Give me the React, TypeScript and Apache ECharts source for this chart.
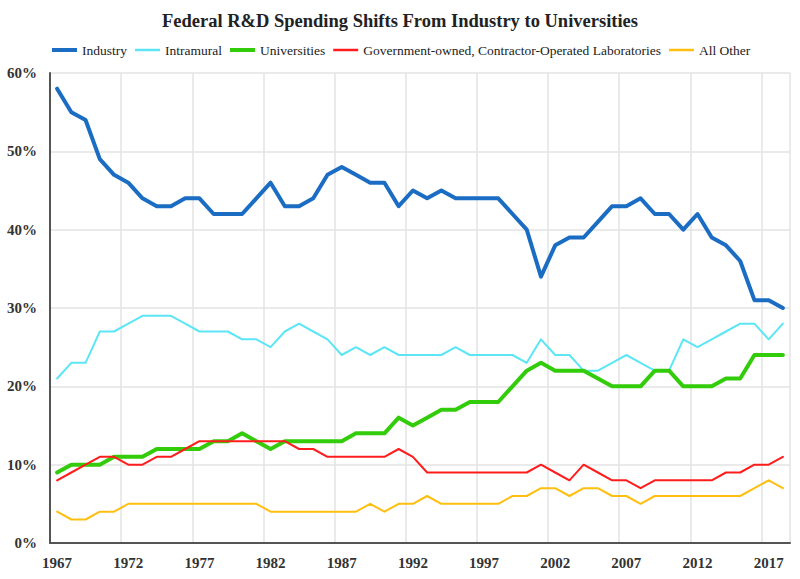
import React, { useEffect, useRef } from "react";
import * as echarts from "echarts";

const years: string[] = [];
for (let y = 1967; y <= 2018; y++) years.push(String(y));

const industry = [
  58, 55, 54, 49, 47, 46, 44, 43, 43, 44,
  44, 42, 42, 42, 44, 46, 43, 43, 44, 47,
  48, 47, 46, 46, 43, 45, 44, 45, 44, 44,
  44, 44, 42, 40, 34, 38, 39, 39, 41, 43,
  43, 44, 42, 42, 40, 42, 39, 38, 36, 31,
  31, 30,
];
const intramural = [
  21, 23, 23, 27, 27, 28, 29, 29, 29, 28,
  27, 27, 27, 26, 26, 25, 27, 28, 27, 26,
  24, 25, 24, 25, 24, 24, 24, 24, 25, 24,
  24, 24, 24, 23, 26, 24, 24, 22, 22, 23,
  24, 23, 22, 22, 26, 25, 26, 27, 28, 28,
  26, 28,
];
const universities = [
  9, 10, 10, 10, 11, 11, 11, 12, 12, 12,
  12, 13, 13, 14, 13, 12, 13, 13, 13, 13,
  13, 14, 14, 14, 16, 15, 16, 17, 17, 18,
  18, 18, 20, 22, 23, 22, 22, 22, 21, 20,
  20, 20, 22, 22, 20, 20, 20, 21, 21, 24,
  24, 24,
];
const goco = [
  8, 9, 10, 11, 11, 10, 10, 11, 11, 12,
  13, 13, 13, 13, 13, 13, 13, 12, 12, 11,
  11, 11, 11, 11, 12, 11, 9, 9, 9, 9,
  9, 9, 9, 9, 10, 9, 8, 10, 9, 8,
  8, 7, 8, 8, 8, 8, 8, 9, 9, 10,
  10, 11,
];
const allOther = [
  4, 3, 3, 4, 4, 5, 5, 5, 5, 5,
  5, 5, 5, 5, 5, 4, 4, 4, 4, 4,
  4, 4, 5, 4, 5, 5, 6, 5, 5, 5,
  5, 5, 6, 6, 7, 7, 6, 7, 7, 6,
  6, 5, 6, 6, 6, 6, 6, 6, 6, 7,
  8, 7,
];

const seriesNames = [
  "Industry",
  "Intramural",
  "Universities",
  "Government-owned, Contractor-Operated Laboratories",
  "All Other",
];
const seriesColors = ["#1a6dc2", "#5ce6f5", "#33cc0a", "#ff1c1c", "#ffbf10"];
const seriesWidths = [4, 2, 4, 2, 2];

const FONT = "'Liberation Serif', 'DejaVu Serif', serif";
const THICK_ICON = "path://M0,0 H25 V4 H0 Z";
const THIN_ICON = "path://M0,0 H25 V2.5 H0 Z";

export default function App() {
  const ref = useRef<HTMLDivElement>(null);
  useEffect(() => {
    if (!ref.current) return;
    const chart = echarts.init(ref.current, undefined, { renderer: "svg" });
    const allData = [industry, intramural, universities, goco, allOther];
    const legendText = {
      fontFamily: FONT,
      fontSize: 13.5,
      color: "#222222",
    };
    chart.setOption({
      animation: false,
      backgroundColor: "#ffffff",
      textStyle: { fontFamily: FONT },
      title: {
        text: "Federal R&D Spending Shifts From Industry to Universities",
        left: "center",
        top: 6,
        textStyle: {
          fontFamily: FONT,
          fontWeight: "bold",
          fontSize: 18.5,
          color: "#222222",
        },
      },
      legend: {
        left: 47,
        top: 38,
        itemWidth: 25,
        itemHeight: 4,
        itemGap: 8,
        symbolKeepAspect: true,
        textStyle: legendText,
        data: seriesNames.map((name, i) => ({
          name,
          icon: seriesWidths[i] > 3 ? THICK_ICON : THIN_ICON,
          itemStyle: { color: seriesColors[i] },
          textStyle: legendText,
        })),
      },
      grid: { left: 50, right: 10, top: 73, bottom: 36, containLabel: false },
      xAxis: {
        type: "category",
        data: years,
        boundaryGap: true,
        axisLine: { lineStyle: { color: "#555555", width: 2 } },
        axisTick: { show: false },
        axisLabel: {
          interval: (i: number) => i % 5 === 0,
          fontFamily: FONT,
          fontWeight: "bold",
          fontSize: 15,
          color: "#333333",
          margin: 12,
        },
        splitLine: {
          show: true,
          interval: (i: number) => i % 5 === 0 && i > 0,
          lineStyle: { color: "#e3e3e3", width: 1.5 },
        },
      },
      yAxis: {
        type: "value",
        min: 0,
        max: 60,
        interval: 10,
        axisLine: { show: true, lineStyle: { color: "#555555", width: 2 } },
        axisTick: { show: false },
        axisLabel: {
          formatter: "{value}%",
          fontFamily: FONT,
          fontWeight: "bold",
          fontSize: 15,
          color: "#333333",
          margin: 13,
        },
        splitLine: { show: true, lineStyle: { color: "#e3e3e3", width: 1.5 } },
      },
      series: seriesNames.map((name, i) => ({
        name,
        type: "line",
        data: allData[i],
        symbol: "none",
        smooth: false,
        lineStyle: { color: seriesColors[i], width: seriesWidths[i], join: "round", cap: "round" },
        itemStyle: { color: seriesColors[i] },
      })),
    });
    return () => chart.dispose();
  }, []);
  return (
    <div
      ref={ref}
      style={{ position: "fixed", left: 0, top: 0, width: 800, height: 579 }}
    />
  );
}
